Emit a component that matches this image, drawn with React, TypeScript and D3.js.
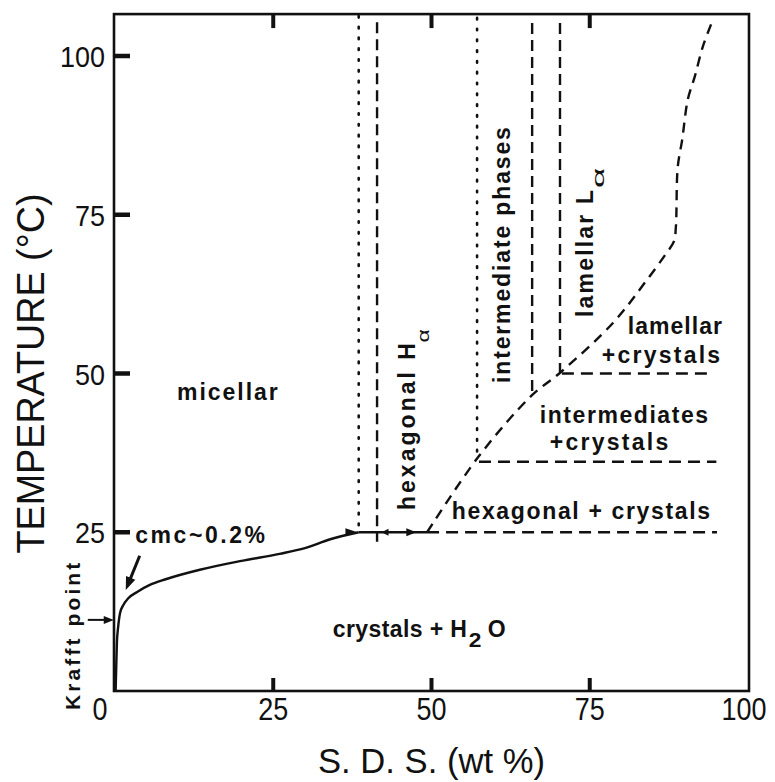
import React from 'react';
import * as d3 from 'd3';

const W = 775;
const H = 782;

// ---- axis ticks ----
const xTickValues = [0, 25, 50, 75, 100];
const xTickLabels = ['0', '25', '50', '75', '100'];
const yTickValues = [25, 50, 75, 100];
const yTickLabels = ['25', '50', '75', '100'];
const topTickValues = [25, 50, 75];

// ---- Krafft boundary (solid curve), wt% vs °C ----
const krafftX = [0.1, 0.2, 0.3, 0.5, 0.8, 1.3, 2.1, 3.5, 5.5, 8, 13.4, 20, 26, 30, 34, 38.5];
const krafftT = [0, 4, 7.6, 10.1, 12.3, 13.5, 14.6, 15.6, 16.7, 17.6, 19.1, 20.5, 21.6, 22.5, 23.9, 25];

// ---- liquid-crystal / crystal boundary (dashed) ----
const boundaryX = [49.3, 57.5, 65.8, 70.4, 78.7, 84, 87, 88.3, 88.6, 88.9, 89.6, 90.5, 91.6, 92.9, 94.5];
const boundaryT = [25, 37, 46.5, 50.2, 58, 64.7, 68.8, 70.8, 73, 82.5, 86.8, 93.2, 96.8, 101.6, 105.8];

// ---- vertical phase boundaries ----
const phaseX = [38.5, 41.4, 57.2, 65.9, 70.3];
const phaseBottom = [25, 23.5, 37.2, 46.6, 50.2];
const phaseTop = [106.3, 105.3, 106.0, 105.2, 105.2];
const phaseDotted = [true, false, true, false, false];

// ---- horizontal tie lines (dashed) ----
const tieT = [25, 36.1, 50];
const tieStart = [49.3, 57.5, 70.6];
const tieEnd = [95.1, 95.0, 94.5];

// solid isotherm segment at 25 °C
const solidSegX = [38.5, 49.3];
const solidSegT = 25;

const TMAX = 106.6;

const x = d3.scaleLinear().domain([0, 100]).range([115, 748]);
const y = d3.scaleLinear().domain([0, 100]).range([691, 56]);

const INK = '#111';
const FONT = "'Liberation Sans', Arial, Helvetica, sans-serif";

function arrowHead(tipX: number, tipY: number, angle: number, len = 9, half = 4) {
  const c = Math.cos(angle), s = Math.sin(angle);
  const bx = tipX - c * len, by = tipY - s * len;
  const p1 = [bx - s * half, by + c * half];
  const p2 = [bx + s * half, by - c * half];
  return `M${tipX},${tipY}L${p1[0]},${p1[1]}L${p2[0]},${p2[1]}Z`;
}

type Lbl = { text: string; x0: number; x1: number; t: number };
const flatLabels: Lbl[] = [
  { text: 'micellar', x0: 9.8, x1: 25.7, t: 45.8 },
  { text: 'cmc~0.2%', x0: 3.2, x1: 23.7, t: 23.3 },
  { text: 'hexagonal + crystals', x0: 53.2, x1: 94.0, t: 27.1 },
  { text: 'intermediates', x0: 67.1, x1: 93.7, t: 42.2 },
  { text: '+crystals', x0: 68.7, x1: 87.4, t: 38.0 },
  { text: 'lamellar', x0: 81.0, x1: 95.9, t: 56.2 },
  { text: '+crystals', x0: 76.9, x1: 95.6, t: 51.7 },
  { text: 'crystals + H', x0: 34.4, x1: 55.6, t: 8.5 },
  { text: 'O', x0: 58.9, x1: 62.9, t: 8.5 },
];
const subLabels: Lbl[] = [{ text: '2', x0: 55.9, x1: 57.9, t: 7.0 }];

type RLbl = { text: string; xb: number; t0: number; t1: number; size: number; bold: boolean };
const rotLabels: RLbl[] = [
  { text: 'hexagonal H', xb: 47.4, t0: 28.5, t1: 54.8, size: 23, bold: true },
  { text: 'α', xb: 49.6, t0: 54.9, t1: 57.0, size: 16, bold: false },
  { text: 'intermediate phases', xb: 62.4, t0: 48.5, t1: 88.8, size: 23, bold: true },
  { text: 'lamellar L', xb: 75.5, t0: 58.9, t1: 78.9, size: 23, bold: true },
  { text: 'α', xb: 77.2, t0: 79.2, t1: 82.4, size: 16, bold: false },
  { text: 'Krafft point', xb: -5.5, t0: -3.0, t1: 20.2, size: 21, bold: true },
];

export default function App() {
  const krafftPath = d3
    .line<number>()
    .x((_, i) => x(krafftX[i]))
    .y((_, i) => y(krafftT[i]))
    .curve(d3.curveMonotoneX)(krafftX) as string;

  const boundaryPath = d3
    .line<number>()
    .x((_, i) => x(boundaryX[i]))
    .y((_, i) => y(boundaryT[i]))
    .curve(d3.curveCatmullRom.alpha(0.5))(boundaryX) as string;

  // annotation arrows
  const kA = { x0: -4.3, x1: -0.2, t: 11.2 };
  const cA = { x0: 3.9, t0: 21.3, x1: 1.7, t1: 15.9 };
  const cAng = Math.atan2(y(cA.t1) - y(cA.t0), x(cA.x1) - x(cA.x0));

  return (
    <svg
      width={W}
      height={H}
      viewBox={`0 0 ${W} ${H}`}
      style={{ position: 'absolute', left: 0, top: 0, background: '#fff' }}
    >
      <rect x={0} y={0} width={W} height={H} fill="#fff" />
      {/* frame */}
      <rect
        x={x(0) - 1}
        y={y(TMAX)}
        width={x(100) - x(0) + 2}
        height={y(0) - y(TMAX)}
        fill="none"
        stroke={INK}
        strokeWidth={2.6}
      />
      {/* left ticks */}
      {yTickValues.map((v) => (
        <line key={'yt' + v} x1={x(0)} x2={x(0) + 15} y1={y(v)} y2={y(v)} stroke={INK} strokeWidth={4.5} />
      ))}
      {/* bottom ticks */}
      {xTickValues.slice(1, 4).map((v) => (
        <line key={'xt' + v} x1={x(v)} x2={x(v)} y1={y(0)} y2={y(0) - 13} stroke={INK} strokeWidth={4} />
      ))}
      {/* top ticks */}
      {topTickValues.map((v) => (
        <line key={'tt' + v} x1={x(v)} x2={x(v)} y1={y(TMAX)} y2={y(TMAX) + 14} stroke={INK} strokeWidth={4} />
      ))}
      {/* y tick labels */}
      {yTickValues.map((v, i) => (
        <text
          key={'yl' + v}
          x={105}
          y={y(v) + 11}
          textAnchor="end"
          fontFamily={FONT}
          fontSize={30}
          fill={INK}
          textLength={yTickLabels[i].length * 15}
          lengthAdjust="spacingAndGlyphs"
        >
          {yTickLabels[i]}
        </text>
      ))}
      {/* x tick labels */}
      {xTickValues.map((v, i) => (
        <text
          key={'xl' + v}
          x={x(v) - (v === 0 ? 15 : 0) - (v === 100 ? 4 : 0) - (xTickLabels[i].length * 15) / 2}
          y={720}
          fontFamily={FONT}
          fontSize={31}
          fill={INK}
          textLength={xTickLabels[i].length * 15}
          lengthAdjust="spacingAndGlyphs"
        >
          {xTickLabels[i]}
        </text>
      ))}
      {/* axis titles */}
      <text
        transform={`translate(44, ${y(50)}) rotate(-90)`}
        textAnchor="middle"
        fontFamily={FONT}
        fontSize={38}
        fill={INK}
        textLength={360}
        lengthAdjust="spacingAndGlyphs"
      >
        TEMPERATURE (°C)
      </text>
      <text
        x={318}
        y={773}
        fontFamily={FONT}
        fontSize={35}
        fill={INK}
        textLength={227}
        lengthAdjust="spacingAndGlyphs"
      >
        S. D. S. (wt %)
      </text>

      {/* Krafft curve */}
      <path d={krafftPath} fill="none" stroke={INK} strokeWidth={2.4} />
      {/* solid isotherm segment */}
      <line
        x1={x(solidSegX[0])}
        x2={x(solidSegX[1])}
        y1={y(solidSegT)}
        y2={y(solidSegT)}
        stroke={INK}
        strokeWidth={2.4}
      />
      <path d={arrowHead(x(38.3), y(25), 0, 12, 4)} fill={INK} />
      <path d={arrowHead(x(42.1), y(25), Math.PI, 7, 3.5)} fill={INK} />
      <path d={arrowHead(x(47.6), y(25), 0, 10, 4)} fill={INK} />

      {/* dashed boundary */}
      <path d={boundaryPath} fill="none" stroke={INK} strokeWidth={2.4} strokeDasharray="10 7" />

      {/* vertical phase lines */}
      {phaseX.map((v, i) => (
        <line
          key={'pv' + i}
          x1={x(v)}
          x2={x(v)}
          y1={y(phaseTop[i])}
          y2={y(phaseBottom[i])}
          stroke={INK}
          strokeWidth={phaseDotted[i] ? 2.6 : 2.4}
          strokeDasharray={phaseDotted[i] ? '1.6 9.2' : '11 6'}
          strokeLinecap={phaseDotted[i] ? 'round' : 'butt'}
        />
      ))}

      {/* horizontal tie lines */}
      {tieT.map((t, i) => (
        <line
          key={'th' + i}
          x1={x(tieStart[i])}
          x2={x(tieEnd[i])}
          y1={y(t)}
          y2={y(t)}
          stroke={INK}
          strokeWidth={2.4}
          strokeDasharray="12 7"
        />
      ))}

      {/* Krafft point arrow */}
      <line x1={x(kA.x0)} x2={x(kA.x1) - 8} y1={y(kA.t)} y2={y(kA.t)} stroke={INK} strokeWidth={2} />
      <path d={arrowHead(x(kA.x1), y(kA.t), 0, 10, 4)} fill={INK} />
      {/* cmc arrow */}
      <line
        x1={x(cA.x0)}
        y1={y(cA.t0)}
        x2={x(cA.x1) - Math.cos(cAng) * 8}
        y2={y(cA.t1) - Math.sin(cAng) * 8}
        stroke={INK}
        strokeWidth={3}
      />
      <path d={arrowHead(x(cA.x1), y(cA.t1), cAng, 13, 5)} fill={INK} />

      {/* flat labels */}
      {flatLabels.map((l, i) => (
        <text
          key={'fl' + i}
          x={x(l.x0)}
          y={y(l.t)}
          fontFamily={FONT}
          fontWeight="bold"
          fontSize={23}
          fill={INK}
          textLength={x(l.x1) - x(l.x0)}
          lengthAdjust="spacing"
        >
          {l.text}
        </text>
      ))}
      {subLabels.map((l, i) => (
        <text
          key={'sl' + i}
          x={x(l.x0)}
          y={y(l.t)}
          fontFamily={FONT}
          fontWeight="bold"
          fontSize={21}
          fill={INK}
          textLength={x(l.x1) - x(l.x0)}
          lengthAdjust="spacingAndGlyphs"
        >
          {l.text}
        </text>
      ))}
      {/* rotated labels */}
      {rotLabels.map((l, i) => (
        <text
          key={'rl' + i}
          transform={`translate(${x(l.xb)}, ${y(l.t0)}) rotate(-90)`}
          fontFamily={FONT}
          fontWeight={l.bold ? 'bold' : 'normal'}
          fontSize={l.size}
          fill={INK}
          textLength={y(l.t0) - y(l.t1)}
          lengthAdjust={l.bold ? 'spacing' : 'spacingAndGlyphs'}
        >
          {l.text}
        </text>
      ))}
    </svg>
  );
}
